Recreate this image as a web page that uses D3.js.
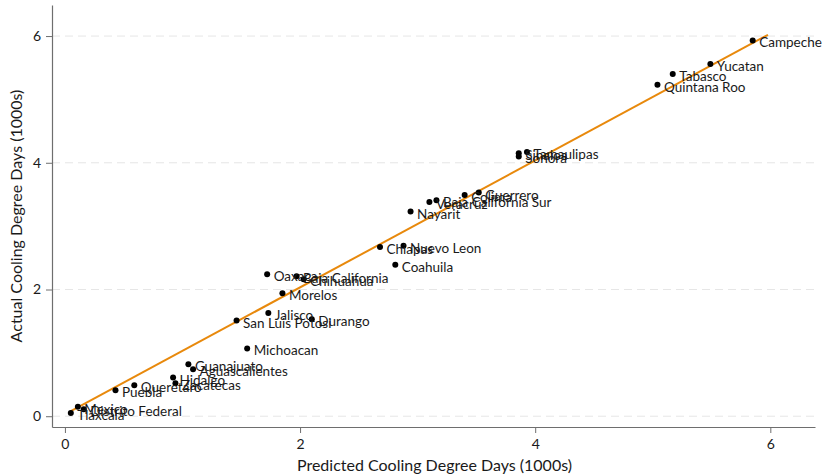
<!DOCTYPE html>
<html>
<head>
<meta charset="utf-8">
<script src="https://cdn.jsdelivr.net/npm/d3@7"></script>
<style>
	html, body { margin: 0; padding: 0; background: #fff; }
	svg { display: block; font-family: Lato, 'Open Sans', sans-serif; }
</style>
</head>
<body>
<svg id="chart" width="822" height="476"></svg>
<script>
// state names, predicted (x) and actual (y) cooling degree days in 1000s
const states = [
	'Campeche', 'Yucatan', 'Tabasco', 'Quintana Roo',
	'Sinaloa', 'Tamaulipas', 'Sonora',
	'Guerrero', 'Colima', 'Baja California Sur', 'Veracruz', 'Nayarit',
	'Chiapas', 'Nuevo Leon', 'Coahuila',
	'Oaxaca', 'Baja California', 'Chihuahua', 'Morelos',
	'Jalisco', 'San Luis Potosi', 'Durango', 'Michoacan',
	'Guanajuato', 'Aguascalientes', 'Hidalgo', 'Zacatecas',
	'Queretaro', 'Puebla', 'Mexico', 'Distrito Federal', 'Tlaxcala',
];
const predicted = [
	5.85, 5.49, 5.17, 5.04,
	3.86, 3.93, 3.86,
	3.52, 3.40, 3.16, 3.10, 2.94,
	2.68, 2.88, 2.81,
	1.72, 1.97, 2.03, 1.85,
	1.73, 1.46, 2.10, 1.55,
	1.05, 1.09, 0.92, 0.94,
	0.59, 0.43, 0.11, 0.16, 0.05,
];
const actual = [
	5.93, 5.56, 5.40, 5.23,
	4.15, 4.17, 4.10,
	3.53, 3.49, 3.41, 3.38, 3.23,
	2.67, 2.69, 2.39,
	2.24, 2.21, 2.16, 1.94,
	1.63, 1.51, 1.53, 1.07,
	0.82, 0.74, 0.61, 0.52,
	0.49, 0.41, 0.15, 0.11, 0.05,
];

// fitted line end points
const fitX = [0.05, 5.98];
const fitY = [0.08, 6.02];

const xTicks = [0, 2, 4, 6];
const yTicks = [0, 2, 4, 6];

const config = {
	left: 52, right: 815, top: 5, bottom: 427,
	xDomain: [-0.11, 6.38],
	yDomain: [-0.17, 6.49],
	axisColor: '#6e6e6e',
	gridColor: '#e6e6e6',
	lineColor: '#e8890c',
	textColor: '#1a1a1a',
};

const svg = d3.select('#chart');
const data = states.map((name, i) => ({ name, x: predicted[i], y: actual[i] }));

const x = d3.scaleLinear().domain(config.xDomain).range([config.left, config.right]);
const y = d3.scaleLinear().domain(config.yDomain).range([config.bottom, config.top]);

// dashed grid lines
svg.append('g')
	.selectAll('line')
	.data(yTicks)
	.join('line')
	.attr('x1', config.left)
	.attr('x2', config.right)
	.attr('y1', (d) => y(d))
	.attr('y2', (d) => y(d))
	.attr('stroke', config.gridColor)
	.attr('stroke-width', 1)
	.attr('stroke-dasharray', '8,5');

// axes
const fmt = d3.format('d');
const xAxis = svg.append('g')
	.attr('transform', `translate(0,${config.bottom})`)
	.call(d3.axisBottom(x).tickValues(xTicks).tickFormat(fmt).tickSize(6).tickPadding(6).tickSizeOuter(0));
const yAxis = svg.append('g')
	.attr('transform', `translate(${config.left},0)`)
	.call(d3.axisLeft(y).tickValues(yTicks).tickFormat(fmt).tickSize(6).tickPadding(5).tickSizeOuter(0));

[xAxis, yAxis].forEach((a) => {
	a.select('.domain').attr('stroke', config.axisColor).attr('stroke-width', 1.2);
	a.selectAll('.tick line').attr('stroke', config.axisColor);
	a.selectAll('text')
		.style('font-size', '14px')
		.style('font-family', 'Lato, sans-serif')
		.attr('fill', config.textColor);
});

// axis titles
svg.append('text')
	.attr('x', (config.left + config.right) / 2 + 1)
	.attr('y', 471)
	.attr('text-anchor', 'middle')
	.style('font-size', '16px')
	.attr('fill', config.textColor)
	.text('Predicted Cooling Degree Days (1000s)');

svg.append('text')
	.attr('transform', `translate(22,${(config.top + config.bottom) / 2}) rotate(-90)`)
	.attr('text-anchor', 'middle')
	.style('font-size', '16px')
	.attr('fill', config.textColor)
	.text('Actual Cooling Degree Days (1000s)');

// fitted line
svg.append('line')
	.attr('x1', x(fitX[0]))
	.attr('y1', y(fitY[0]))
	.attr('x2', x(fitX[1]))
	.attr('y2', y(fitY[1]))
	.attr('stroke', config.lineColor)
	.attr('stroke-width', 2);

// points
svg.append('g')
	.selectAll('circle')
	.data(data)
	.join('circle')
	.attr('cx', (d) => x(d.x))
	.attr('cy', (d) => y(d.y))
	.attr('r', 3)
	.attr('fill', '#000');

// marker labels
svg.append('g')
	.selectAll('text')
	.data(data)
	.join('text')
	.attr('x', (d) => x(d.x) + 6.5)
	.attr('y', (d) => y(d.y) + 7)
	.style('font-size', '13.5px')
	.attr('fill', config.textColor)
	.text((d) => d.name);
</script>
</body>
</html>
